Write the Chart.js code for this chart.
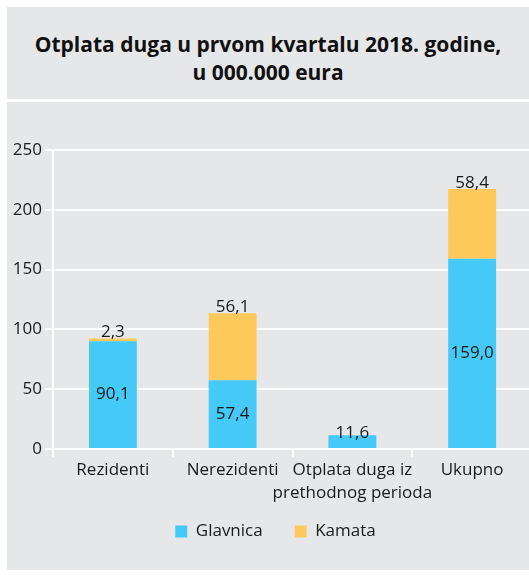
<!DOCTYPE html>
<html>
<head>
<meta charset="utf-8">
<script src="https://cdn.jsdelivr.net/npm/chart.js@4.4.1/dist/chart.umd.min.js"></script>
<style>
  body { margin: 0; background: #fff; overflow: hidden; }
  #wrap { position: absolute; left: 7px; top: 7px; width: 522px; height: 563px; overflow: hidden; }
  #title {
    position: absolute; left: 0; top: 0; width: 522px; height: 92px; background: #e6e7e8;
    font-family: "Open Sans", "Noto Sans", sans-serif; font-weight: bold; font-size: 21px;
    color: #111; text-align: center; line-height: 28px; padding-top: 23px; box-sizing: border-box;
  }
  #box { position: absolute; left: 0; top: 95px; width: 522px; height: 468px; background: #e6e7e8; }
  #box canvas { position: absolute; left: 0; top: 0; }
</style>
</head>
<body>
<div id="wrap">
  <div id="title">Otplata duga u prvom kvartalu 2018. godine,<br>u 000.000 eura</div>
  <div id="box"><canvas id="myChart" width="540" height="468" style="width:540px;height:468px"></canvas></div>
</div>
<script>
// data
var categories = ["Rezidenti", "Nerezidenti", ["Otplata duga iz", "prethodnog perioda"], "Ukupno"];
var glavnica = [90.1, 57.4, 11.6, 159.0];
var kamata = [2.3, 56.1, null, 58.4];
var yTicks = [0, 50, 100, 150, 200, 250];

var font = "'Open Sans', 'Noto Sans', sans-serif";

function fmt(v) {
  return v.toFixed(1).replace(".", ",");
}

// draws the numbers on the bars
var valueLabels = {
  id: "valueLabels",
  afterDatasetsDraw: function(chart) {
    var ctx = chart.ctx;
    ctx.save();
    ctx.font = "17px " + font;
    ctx.fillStyle = "#1a1a1a";
    ctx.textAlign = "center";
    ctx.textBaseline = "middle";
    chart.data.datasets.forEach(function(ds, i) {
      var meta = chart.getDatasetMeta(i);
      meta.data.forEach(function(bar, j) {
        var v = ds.data[j];
        if (v == null) return;
        var h = bar.base - bar.y;
        var y;
        if (i == 0 && h > 30) {
          y = bar.y + h / 2;
        } else if (i == 0) {
          y = bar.y - 2;
        } else {
          y = bar.y - 6;
        }
        ctx.fillText(fmt(v), bar.x, y);
      });
    });
    ctx.restore();
  }
};

// nudge the legend to where it sits in the original
var legendShift = {
  id: "legendShift",
  afterLayout: function(chart) {
    chart.legend.left += 6;
    chart.legend.right += 6;
    chart.legend.top -= 14;
    chart.legend.bottom -= 14;
  }
};

var ctx = document.getElementById("myChart");

var chart = new Chart(ctx, {
  type: "bar",
  data: {
    labels: categories,
    datasets: [
      {
        label: "Glavnica",
        data: glavnica,
        backgroundColor: "#45c9f6",
        categoryPercentage: 1,
        barPercentage: 0.4
      },
      {
        label: "Kamata",
        data: kamata,
        backgroundColor: "#fec95b",
        categoryPercentage: 1,
        barPercentage: 0.4
      }
    ]
  },
  options: {
    responsive: false,
    animation: false,
    layout: { padding: { left: 0, right: 15, top: 48, bottom: 6 } },
    plugins: {
      tooltip: { enabled: false },
      legend: {
        position: "bottom",
        labels: {
          font: { family: font, size: 17 },
          color: "#1a1a1a",
          boxWidth: 12,
          boxHeight: 12,
          padding: 32
        }
      }
    },
    scales: {
      x: {
        stacked: true,
        afterFit: function(scale) { scale.height = 56; },
        grid: { display: true, drawOnChartArea: false, color: "#ffffff", lineWidth: 2, tickLength: 8, offset: true },
        border: { display: false },
        ticks: {
          font: { family: font, size: 17, lineHeight: 1.35 },
          color: "#1a1a1a",
          padding: 2,
          maxRotation: 0,
          autoSkip: false
        }
      },
      y: {
        stacked: true,
        min: 0,
        max: 250,
        afterBuildTicks: function(scale) {
          scale.ticks = yTicks.map(function(v) { return { value: v }; });
        },
        afterFit: function(scale) { scale.width = 46; },
        grid: { color: "#ffffff", lineWidth: 2, tickLength: 8 },
        border: { display: true, color: "#ffffff", width: 2 },
        ticks: { font: { family: font, size: 17 }, color: "#1a1a1a", padding: 3 }
      }
    }
  },
  plugins: [valueLabels, legendShift]
});
</script>
</body>
</html>
